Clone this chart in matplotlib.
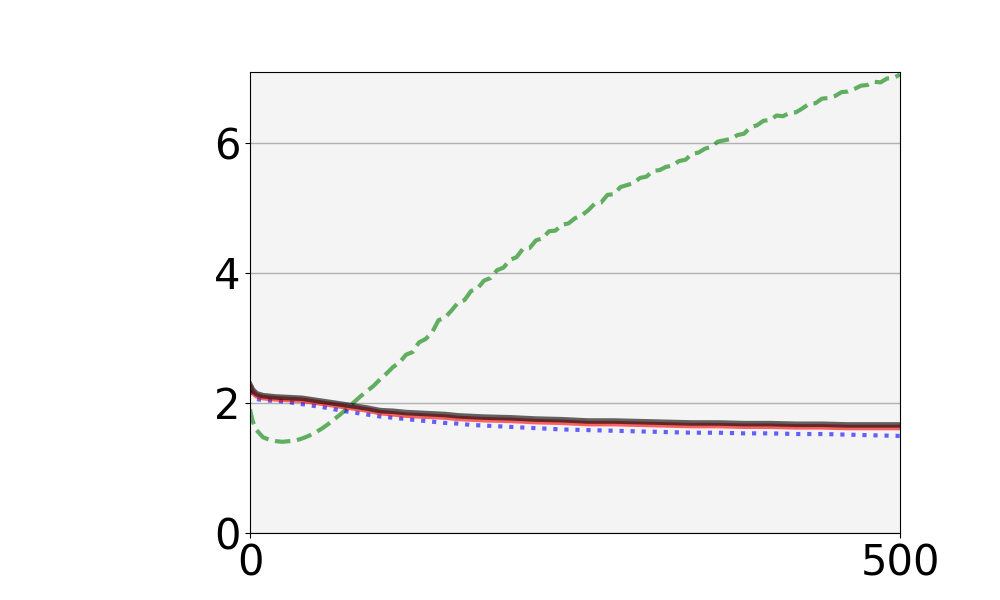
import numpy as np
import matplotlib.pyplot as plt

# green dashed curve
x_green = [0, 2, 5, 10, 15, 20, 25, 30, 35, 40, 45, 50, 55, 60, 65, 70, 75, 80, 85, 90,
           95, 100, 105, 110, 115, 120, 125, 130, 135, 140, 145, 150, 155, 160, 165, 170,
           175, 180, 185, 190, 195, 200, 205, 210, 215, 220, 225, 230, 235, 240, 245, 250,
           255, 260, 265, 270, 275, 280, 285, 290, 295, 300, 305, 310, 315, 320, 325, 330,
           335, 340, 345, 350, 355, 360, 365, 370, 375, 380, 385, 390, 395, 400, 405, 410,
           415, 420, 425, 430, 435, 440, 445, 450, 455, 460, 465, 470, 475, 480, 485, 490,
           495, 500]
y_green = [1.90, 1.72, 1.58, 1.47, 1.43, 1.41, 1.40, 1.41, 1.42, 1.45, 1.49, 1.54, 1.60,
           1.67, 1.75, 1.83, 1.92, 2.01, 2.10, 2.18, 2.26, 2.36, 2.45, 2.55, 2.62, 2.74,
           2.78, 2.93, 2.98, 3.08, 3.27, 3.31, 3.42, 3.54, 3.58, 3.72, 3.76, 3.88, 3.92,
           4.04, 4.08, 4.20, 4.24, 4.37, 4.38, 4.50, 4.53, 4.64, 4.65, 4.74, 4.76, 4.84,
           4.88, 4.96, 5.06, 5.08, 5.20, 5.21, 5.32, 5.35, 5.38, 5.46, 5.48, 5.57, 5.58,
           5.63, 5.65, 5.72, 5.74, 5.83, 5.85, 5.91, 5.94, 6.02, 6.04, 6.06, 6.12, 6.14,
           6.24, 6.27, 6.34, 6.35, 6.42, 6.41, 6.46, 6.47, 6.53, 6.60, 6.61, 6.68, 6.69,
           6.72, 6.78, 6.79, 6.83, 6.88, 6.89, 6.94, 6.93, 6.99, 7.00, 7.05]

# gray / red / blue lower curves
x_low = [0, 2, 5, 10, 20, 30, 40, 50, 60, 70, 80, 90, 100, 110, 120, 130, 140, 150, 160,
         170, 180, 200, 220, 240, 260, 280, 300, 320, 340, 360, 380, 400, 420, 440, 460,
         480, 500]
y_gray = [2.28, 2.20, 2.14, 2.11, 2.09, 2.08, 2.07, 2.04, 2.01, 1.98, 1.95, 1.92, 1.88,
          1.87, 1.85, 1.84, 1.83, 1.82, 1.80, 1.79, 1.78, 1.77, 1.75, 1.74, 1.72, 1.72,
          1.71, 1.70, 1.69, 1.69, 1.68, 1.68, 1.67, 1.67, 1.66, 1.66, 1.66]
y_red = [2.24, 2.16, 2.11, 2.08, 2.06, 2.05, 2.04, 2.01, 1.98, 1.95, 1.92, 1.89, 1.85,
         1.83, 1.81, 1.80, 1.79, 1.78, 1.76, 1.75, 1.74, 1.73, 1.71, 1.70, 1.68, 1.68,
         1.67, 1.66, 1.65, 1.65, 1.64, 1.64, 1.63, 1.63, 1.62, 1.62, 1.62]
y_blue = [2.18, 2.10, 2.06, 2.04, 2.03, 2.01, 1.98, 1.95, 1.92, 1.88, 1.85, 1.82, 1.79,
          1.77, 1.75, 1.73, 1.71, 1.69, 1.68, 1.66, 1.65, 1.63, 1.61, 1.59, 1.58, 1.57,
          1.56, 1.55, 1.54, 1.54, 1.53, 1.53, 1.52, 1.52, 1.51, 1.50, 1.49]

fig = plt.figure(figsize=(10, 6), dpi=100)
ax = fig.add_subplot(111)
fig.subplots_adjust(left=0.25, right=0.9, bottom=0.112, top=0.88)

ax.set_facecolor('#f4f4f4')
ax.grid(axis='y', color='#b0b0b0', linewidth=1)
ax.set_axisbelow(True)

ax.plot(x_green, y_green, '--', color='green', alpha=0.6, linewidth=3)
ax.plot(x_low, y_blue, ':', color='blue', alpha=0.6, linewidth=3)
ax.plot(x_low, y_red, '-', color='red', alpha=0.6, linewidth=4)
ax.plot(x_low, y_gray, '-', color='black', alpha=0.6, linewidth=4)

ax.set_xlim(0, 500)
ax.set_ylim(0, 7.09)
ax.set_xticks([0, 500])
ax.set_yticks([0, 2, 4, 6])
ax.tick_params(labelsize=30)

plt.savefig('out.png')
